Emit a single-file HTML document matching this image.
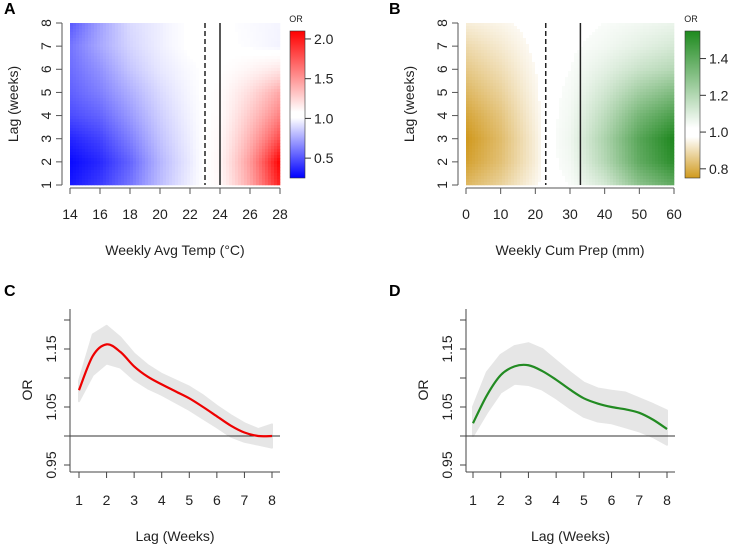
<!DOCTYPE html>
<html><head><meta charset="utf-8"><style>
body{margin:0;background:#fff;}
svg{display:block;font-family:"Liberation Sans",Arial,sans-serif;}
</style></head><body>
<svg id="fig" width="740" height="545" viewBox="0 0 740 545">
<defs>
<linearGradient id="gA" x1="0" y1="1" x2="0" y2="0">
<stop offset="0" stop-color="#0000ff"/><stop offset="0.41" stop-color="#ffffff"/><stop offset="0.45" stop-color="#ffffff"/><stop offset="1" stop-color="#ff0000"/></linearGradient>
<linearGradient id="gB" x1="0" y1="1" x2="0" y2="0">
<stop offset="0" stop-color="#d09a1e"/><stop offset="0.28" stop-color="#ffffff"/><stop offset="0.34" stop-color="#ffffff"/><stop offset="1" stop-color="#1e8a1e"/></linearGradient>
</defs>
<g id="layer"></g>
</svg>
<script>
// Panel A data
const aTemps=[14,16,18,20,22,23,24,26,28];
const aLags=[1,2,3,4,5,6,7,8];
const aOR=[
[0.3,0.38,0.52,0.72,0.9,1.0,1.08,1.5,2.0],
[0.27,0.34,0.48,0.7,0.88,1.0,1.1,1.55,2.1],
[0.33,0.4,0.55,0.74,0.9,1.0,1.08,1.45,1.85],
[0.42,0.48,0.62,0.78,0.92,1.0,1.05,1.35,1.65],
[0.47,0.55,0.68,0.82,0.94,1.0,1.04,1.25,1.5],
[0.5,0.6,0.75,0.87,0.96,1.0,1.01,1.1,1.2],
[0.52,0.66,0.8,0.9,1.0,1.0,1.0,0.97,0.92],
[0.45,0.64,0.82,0.9,1.0,1.0,1.0,0.96,0.93]];
// Panel B data
const bPrep=[0,10,20,23,30,40,50,60];
const bLags=[1,2,3,4,5,6,7,8];
const bOR=[
[0.82,0.88,0.97,1.0,1.02,1.12,1.3,1.4],
[0.77,0.84,0.95,1.0,1.04,1.2,1.4,1.52],
[0.75,0.83,0.95,1.0,1.05,1.22,1.42,1.55],
[0.78,0.85,0.96,1.0,1.04,1.18,1.35,1.45],
[0.82,0.88,0.97,1.0,1.03,1.13,1.25,1.33],
[0.86,0.91,0.98,1.0,1.02,1.08,1.15,1.2],
[0.9,0.94,0.99,1.0,1.01,1.04,1.08,1.12],
[0.95,0.97,1.0,1.0,1.0,1.02,1.04,1.06]];
// Panel C data
const cLag=[1,1.5,2,2.5,3,3.5,4,4.5,5,5.5,6,6.5,7,7.5,8];
const cOR=[1.079,1.138,1.158,1.145,1.12,1.102,1.089,1.077,1.065,1.05,1.034,1.018,1.006,1.0,1.0];
const cHi=[1.095,1.175,1.19,1.17,1.142,1.122,1.107,1.096,1.085,1.07,1.052,1.036,1.022,1.012,1.02];
const cLo=[1.06,1.105,1.125,1.118,1.097,1.082,1.071,1.058,1.045,1.03,1.015,0.999,0.99,0.985,0.98];
// Panel D data
const dLag=[1,1.5,2,2.5,3,3.5,4,4.5,5,5.5,6,6.5,7,7.5,8];
const dOR=[1.022,1.07,1.105,1.12,1.122,1.112,1.097,1.08,1.065,1.056,1.05,1.046,1.04,1.028,1.012];
const dHi=[1.05,1.11,1.14,1.155,1.16,1.15,1.13,1.11,1.092,1.082,1.078,1.075,1.065,1.055,1.044];
const dLo=[1.0,1.04,1.075,1.09,1.088,1.08,1.065,1.048,1.033,1.025,1.022,1.015,1.008,0.998,0.985];
const orTicks=[0.95,1.00,1.05,1.10,1.15,1.20];
const orTickLabels=["0.95","","1.05","","1.15",""];

const NS="http://www.w3.org/2000/svg";
const L=document.getElementById('layer');
function mk(t,a,p){const e=document.createElementNS(NS,t);for(const k in a)e.setAttribute(k,a[k]);(p||L).appendChild(e);return e;}
function txt(s,x,y,size,extra){const e=mk('text',Object.assign({x:x,y:y,'font-size':size,fill:'#222','text-anchor':'middle'},extra||{}));e.textContent=s;return e;}
function lerp(a,b,t){return a+(b-a)*t;}
function mix(c1,c2,t){return 'rgb('+c1.map((v,i)=>Math.round(lerp(v,c2[i],t))).join(',')+')';}
function interp(xs,grid,x,lag){
  let i=0;while(i<xs.length-2&&x>xs[i+1])i++;
  const tx=Math.max(0,Math.min(1,(x-xs[i])/(xs[i+1]-xs[i])));
  let j=Math.floor(lag-1);if(j>6)j=6;if(j<0)j=0;const ty=lag-1-j;
  const v00=grid[j][i],v01=grid[j][i+1],v10=grid[j+1][i],v11=grid[j+1][i+1];
  return lerp(lerp(v00,v01,tx),lerp(v10,v11,tx),ty);
}
function heat(cfg){
  const g=mk('g',{});
  
  
  const sx=v=>cfg.x0+(v-cfg.xmin)/(cfg.xmax-cfg.xmin)*(cfg.x1-cfg.x0);
  const sy=l=>cfg.yb-(l-1)/7*(cfg.yb-cfg.yt);
  const step=3;
  for(let px=cfg.x0;px<cfg.x1;px+=step){
    for(let py=cfg.yt;py<cfg.yb;py+=step){
      const xv=cfg.xmin+(px+step/2-cfg.x0)/(cfg.x1-cfg.x0)*(cfg.xmax-cfg.xmin);
      const lv=1+(cfg.yb-(py+step/2))/(cfg.yb-cfg.yt)*7;
      const v=interp(cfg.xs,cfg.grid,xv,lv);
      let col;
      if(v<1)col=mix([255,255,255],cfg.lowC,Math.min(1,Math.pow((1-v)/(1-cfg.vmin),cfg.gam)));
      else col=mix([255,255,255],cfg.hiC,Math.min(1,Math.pow((v-1)/(cfg.vmax-1),cfg.gam)));
      if(Math.abs(v-1)<0.02)col='#fff';
      mk('rect',{x:px,y:py,width:Math.min(step,cfg.x1-px)+0.3,height:Math.min(step,cfg.yb-py)+0.3,fill:col},g);
    }
  }
  const d=mk('line',{x1:sx(cfg.dash),x2:sx(cfg.dash),y1:cfg.yt,y2:cfg.yb,stroke:'#222','stroke-width':1.5,'stroke-dasharray':'5,3'});
  
  const s=mk('line',{x1:sx(cfg.solid),x2:sx(cfg.solid),y1:cfg.yt,y2:cfg.yb,stroke:'#222','stroke-width':1.5});
  
  const ax=cfg.x0-8;
  mk('line',{x1:ax,x2:ax,y1:sy(1),y2:sy(8),stroke:'#555'});
  for(let l=1;l<=8;l++){mk('line',{x1:ax-6,x2:ax,y1:sy(l),y2:sy(l),stroke:'#555'});
    txt(String(l),0,0,14,{transform:'translate('+(ax-11)+','+sy(l)+') rotate(-90)'});}
  const yt=txt('Lag (weeks)',0,0,14,{transform:'translate('+(ax-44)+','+((cfg.yt+cfg.yb)/2)+') rotate(-90)'});
  
  const ay=cfg.yb+3;
  mk('line',{x1:sx(cfg.xticks[0]),x2:sx(cfg.xticks[cfg.xticks.length-1]),y1:ay,y2:ay,stroke:'#555'});
  cfg.xticks.forEach(t=>{mk('line',{x1:sx(t),x2:sx(t),y1:ay,y2:ay+6,stroke:'#555'});txt(String(t),sx(t),219,14);});
  const xt=txt(cfg.xtitle,(cfg.x0+cfg.x1)/2,255,14);
  
  const cb=mk('rect',{x:cfg.cbx,y:31,width:15,height:147,fill:'url(#'+cfg.grad+')',stroke:'#333','stroke-width':0.6});
  
  txt('OR',cfg.cbx+6,22,9);
  cfg.cbTicks.forEach((t,i)=>{const y=178-(t-cfg.vmin)/(cfg.vmax-cfg.vmin)*147;
    mk('line',{x1:cfg.cbx+15,x2:cfg.cbx+21,y1:y,y2:y,stroke:'#333'});
    txt(cfg.cbLabels[i],cfg.cbx+24,y+5,14,{'text-anchor':'start'});});
  const pl=txt(cfg.letter,cfg.lx,14,16,{'font-weight':'bold','text-anchor':'start',fill:'#000'});
  
}
heat({name:'temp',letter:'A',lx:4,xs:aTemps,grid:aOR,x0:70,x1:280,xmin:14,xmax:28,yt:23,yb:185,vmin:0.25,vmax:2.1,gam:1.35,
  lowC:[0,0,255],hiC:[255,0,0],dash:23,solid:24,xticks:[14,16,18,20,22,24,26,28],xtitle:'Weekly Avg Temp (°C)',
  cbx:290,grad:'gA',cbTicks:[0.5,1.0,1.5,2.0],cbLabels:['0.5','1.0','1.5','2.0']});
heat({name:'prep',letter:'B',lx:389,xs:bPrep,grid:bOR,x0:466,x1:674,xmin:0,xmax:60,yt:23,yb:185,vmin:0.75,vmax:1.55,gam:1.1,
  lowC:[208,152,28],hiC:[30,135,30],dash:23,solid:33,xticks:[0,10,20,30,40,50,60],xtitle:'Weekly Cum Prep (mm)',
  cbx:685,grad:'gB',cbTicks:[0.8,1.0,1.2,1.4],cbLabels:['0.8','1.0','1.2','1.4']});

function lagPlot(cfg){
  const sx=l=>cfg.x1+(l-1)/7*(cfg.x8-cfg.x1);
  const sy=v=>436-(v-1)/0.05*29;
  function smooth(ys){const pts=cfg.lag.map((l,i)=>[sx(l),sy(ys[i])]);
    let c='M'+pts[0];
    for(let i=0;i<pts.length-1;i++){const p0=pts[i-1]||pts[i],p1=pts[i],p2=pts[i+1],p3=pts[i+2]||p2;
      c+='C'+(p1[0]+(p2[0]-p0[0])/6)+','+(p1[1]+(p2[1]-p0[1])/6)+' '+(p2[0]-(p3[0]-p1[0])/6)+','+(p2[1]-(p3[1]-p1[1])/6)+' '+p2;}
    return c;}
  let d='';cfg.lag.forEach((l,i)=>d+=(i?'L':'M')+sx(l)+','+sy(cfg.hi[i]));
  for(let i=cfg.lag.length-1;i>=0;i--)d+='L'+sx(cfg.lag[i])+','+sy(cfg.lo[i]);
  const band=mk('path',{d:d+'Z',fill:'#e6e6e6',stroke:'#e6e6e6','stroke-linejoin':'round','stroke-width':2});
  
  const h=mk('line',{x1:cfg.ax,x2:cfg.xr,y1:sy(1),y2:sy(1),stroke:'#333','stroke-width':1});
  
  const ln=mk('path',{d:smooth(cfg.or),fill:'none',stroke:cfg.color,'stroke-width':2.2});
  
  mk('line',{x1:cfg.ax,x2:cfg.ax,y1:309,y2:472,stroke:'#444'});
  mk('line',{x1:cfg.ax,x2:cfg.xr,y1:472,y2:472,stroke:'#444'});
  orTicks.forEach((t,i)=>{mk('line',{x1:cfg.ax-6,x2:cfg.ax,y1:sy(t),y2:sy(t),stroke:'#444'});
    if(orTickLabels[i])txt(orTickLabels[i],0,0,14,{transform:'translate('+(cfg.ax-14)+','+sy(t)+') rotate(-90)'});});
  for(let l=1;l<=8;l++){mk('line',{x1:sx(l),x2:sx(l),y1:472,y2:478,stroke:'#444'});txt(String(l),sx(l),505,14);}
  const yt=txt('OR',0,0,14,{transform:'translate('+(cfg.ax-38)+',390) rotate(-90)'});
  
  const xt=txt('Lag (Weeks)',(cfg.ax+cfg.xr)/2,541,14);
  
  const pl=txt(cfg.letter,cfg.lx,296,16,{'font-weight':'bold','text-anchor':'start',fill:'#000'});
  
}
lagPlot({name:'temp-lag',letter:'C',lx:4,ax:70,xr:280,x1:79,x8:272,lag:cLag,or:cOR,hi:cHi,lo:cLo,color:'#ee0000'});
lagPlot({name:'prep-lag',letter:'D',lx:389,ax:466,xr:675,x1:473,x8:667,lag:dLag,or:dOR,hi:dHi,lo:dLo,color:'#228b22'});
</script>
</body></html>
